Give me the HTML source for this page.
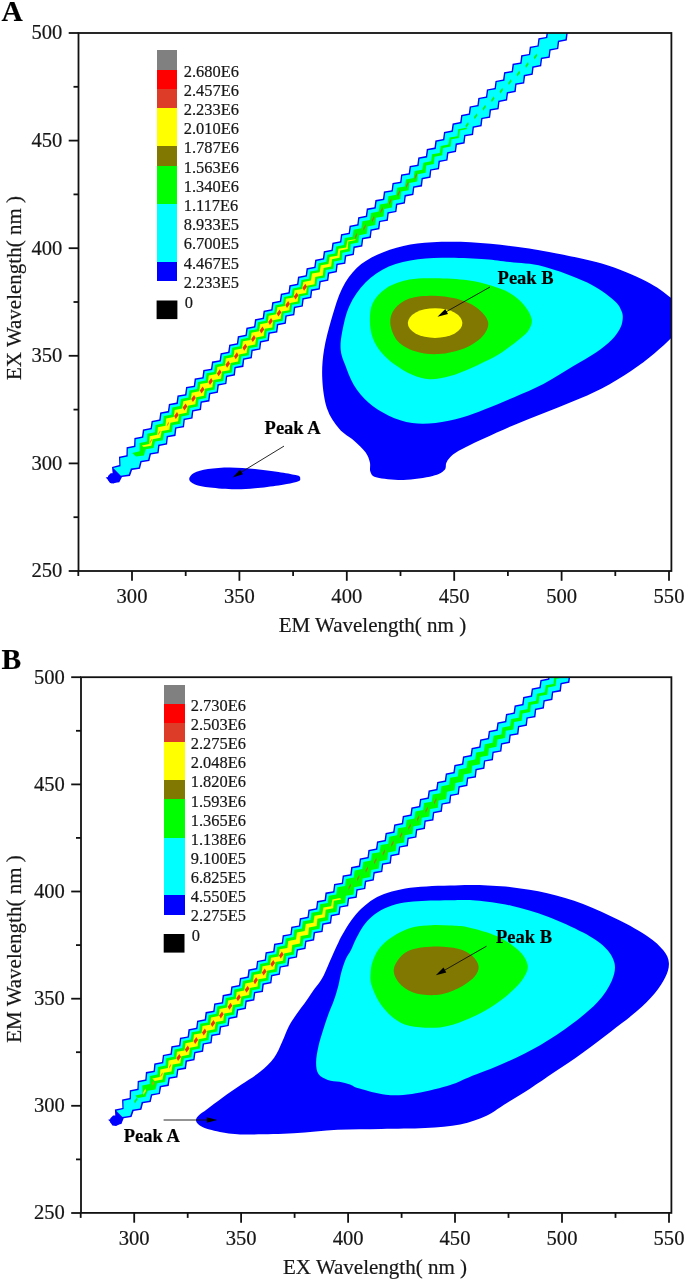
<!DOCTYPE html>
<html><head><meta charset="utf-8"><title>Figure</title>
<style>html,body{margin:0;padding:0;background:#fff}svg{display:block}</style></head>
<body>
<svg width="685" height="1283" viewBox="0 0 685 1283">
<style>
text{font-family:"Liberation Serif",serif;fill:#161616;stroke:#161616;stroke-width:0.2px}
.tk{font-size:20.6px}.al{font-size:21.0px}.lg{font-size:16.4px}.pl{font-size:29.5px;font-weight:bold;fill:#000}
.pk{font-size:18.5px;font-weight:bold;fill:#000}
</style>
<rect width="685" height="1283" fill="#fff"/>
<defs><clipPath id="ca"><rect x="78.5" y="33" width="592.9" height="538"/></clipPath><clipPath id="cb"><rect x="81" y="677.2" width="590.4" height="535.7"/></clipPath></defs>
<g clip-path="url(#ca)">
<path d="M108.0,475.9L110.7,473.2L116.2,473.0L118.5,477.4L117.5,481.6L113.7,483.6L110.0,483.0L107.9,479.9Z" fill="#0000ff"/>
<path d="M105.7,477.6L112.9,475.9L112.0,466.9L119.3,465.1L119.0,456.8L126.4,455.2L126.6,447.3L134.1,445.7L134.4,438.0L142.0,436.5L142.9,429.4L150.6,428.0L151.6,421.0L159.3,419.6L160.2,412.5L167.9,411.1L168.9,404.0L176.5,402.6L177.5,395.5L185.1,394.2L186.1,387.1L193.8,385.7L194.7,378.6L202.4,377.2L203.3,370.1L211.0,368.7L212.0,361.6L219.6,360.2L220.6,353.2L228.2,351.8L229.2,344.7L236.9,343.3L237.8,336.2L245.5,334.8L246.4,327.7L254.1,326.3L255.0,319.2L262.7,317.8L263.6,310.7L271.3,309.3L272.2,302.2L279.9,300.8L280.8,293.7L288.5,292.3L289.4,285.2L297.1,283.8L298.0,276.7L305.7,275.3L306.6,268.2L314.3,266.8L315.2,259.7L322.9,258.3L323.8,251.2L331.5,249.8L332.4,242.7L340.1,241.3L341.0,234.2L348.7,232.8L349.6,225.7L357.3,224.3L358.2,217.2L365.8,215.8L366.8,208.6L374.4,207.3L375.4,200.1L383.0,198.7L383.9,191.6L391.6,190.2L392.5,183.1L400.2,181.7L401.1,174.6L408.7,173.2L409.7,166.0L417.3,164.7L418.3,157.5L425.9,156.1L426.8,149.0L434.5,147.6L435.4,140.5L443.1,139.1L444.0,132.0L451.6,130.6L452.6,123.4L460.2,122.1L461.2,114.9L468.8,113.5L469.7,106.4L477.4,105.0L478.3,97.9L486.0,96.5L486.9,89.4L494.6,88.0L495.5,80.9L503.1,79.5L504.1,72.3L511.7,70.9L512.6,63.8L520.3,62.4L521.2,55.3L528.9,53.9L529.8,46.8L537.5,45.4L538.4,38.3L546.0,36.9L547.0,29.7L554.6,28.3L555.5,21.2L563.2,19.8L564.1,12.7L571.8,11.3L572.7,4.1L580.3,2.7L581.2,-4.4L593.3,7.6L592.4,14.8L584.7,16.2L583.8,23.4L576.2,24.8L575.3,31.9L567.7,33.3L566.8,40.5L559.1,41.9L558.3,49.1L550.6,50.5L549.7,57.7L542.1,59.1L541.2,66.3L533.6,67.7L532.7,74.8L525.1,76.2L524.2,83.4L516.5,84.8L515.7,92.0L508.0,93.4L507.1,100.6L499.5,102.0L498.6,109.2L491.0,110.6L490.1,117.7L482.5,119.1L481.6,126.3L473.9,127.7L473.1,134.9L465.4,136.3L464.6,143.5L456.9,144.9L456.0,152.1L448.4,153.5L447.5,160.6L439.9,162.0L439.0,169.2L431.3,170.6L430.5,177.8L422.8,179.2L422.0,186.4L414.3,187.8L413.4,195.0L405.8,196.4L404.9,203.5L397.3,204.9L396.4,212.1L388.7,213.5L387.9,220.7L380.2,222.1L379.4,229.3L371.7,230.7L370.8,237.9L363.2,239.3L362.3,246.5L354.7,247.9L353.8,255.1L346.2,256.5L345.3,263.7L337.7,265.1L336.8,272.2L329.2,273.7L328.3,280.8L320.7,282.3L319.8,289.4L312.2,290.9L311.3,298.0L303.7,299.4L302.8,306.6L295.2,308.0L294.3,315.2L286.7,316.6L285.8,323.8L278.2,325.2L277.3,332.4L269.7,333.8L268.8,341.0L261.2,342.4L260.3,349.6L252.7,351.1L251.8,358.3L244.2,359.7L243.4,366.9L235.7,368.3L234.9,375.5L227.2,376.9L226.4,384.1L218.8,385.5L217.9,392.7L210.3,394.2L209.4,401.4L201.8,402.8L201.0,410.0L193.3,411.4L192.5,418.6L184.8,420.0L184.0,427.2L176.4,428.6L175.5,435.9L167.9,437.3L167.1,444.5L159.5,445.9L158.6,453.2L150.9,454.5L149.4,461.0L141.6,462.3L140.0,468.7L132.1,469.9L130.0,475.9L122.0,476.9L119.3,482.2L111.2,483.2Z" fill="#0000ff"/>
<path d="M113.2,468.1L120.5,466.3L120.2,458.0L127.7,456.4L127.8,448.5L135.4,447.0L135.6,439.2L143.2,437.7L144.2,430.7L151.8,429.3L152.8,422.2L160.5,420.8L161.5,413.7L169.1,412.4L170.1,405.3L177.8,403.9L178.7,396.8L186.4,395.4L187.3,388.3L195.0,386.9L196.0,379.8L203.6,378.4L204.6,371.3L212.2,370.0L213.2,362.9L220.9,361.5L221.8,354.4L229.5,353.0L230.4,345.9L238.1,344.5L239.1,337.4L246.7,336.0L247.7,328.9L255.3,327.6L256.3,320.5L263.9,319.1L264.9,311.9L272.5,310.6L273.5,303.4L281.1,302.1L282.1,294.9L289.7,293.6L290.7,286.4L298.3,285.0L299.3,277.9L306.9,276.5L307.9,269.4L315.5,268.0L316.5,260.9L324.1,259.5L325.1,252.4L332.7,251.0L333.7,243.9L341.3,242.5L342.2,235.4L349.9,234.0L350.8,226.9L358.5,225.5L359.4,218.4L367.1,217.0L368.0,209.9L375.7,208.5L376.6,201.4L384.2,200.0L385.2,192.8L392.8,191.4L393.7,184.3L401.4,182.9L402.3,175.8L410.0,174.4L410.9,167.3L418.6,165.9L419.5,158.8L427.1,157.4L428.1,150.2L435.7,148.9L436.7,141.7L444.3,140.3L445.2,133.2L452.9,131.8L453.8,124.7L461.5,123.3L462.4,116.2L470.0,114.8L471.0,107.6L478.6,106.3L479.6,99.1L487.2,97.7L488.1,90.6L495.8,89.2L496.7,82.1L504.4,80.7L505.3,73.6L512.9,72.2L513.9,65.0L521.5,63.7L522.5,56.5L530.1,55.1L531.0,48.0L538.7,46.6L539.6,39.5L547.3,38.1L548.2,31.0L555.9,29.6L556.8,22.4L564.4,21.0L565.3,13.9L573.0,12.5L573.9,5.4L581.6,4.0L582.5,-3.2L592.0,6.4L591.1,13.6L583.5,15.0L582.6,22.1L575.0,23.5L574.1,30.7L566.4,32.1L565.5,39.3L557.9,40.7L557.0,47.9L549.4,49.3L548.5,56.4L540.9,57.8L540.0,65.0L532.3,66.4L531.5,73.6L523.8,75.0L523.0,82.2L515.3,83.6L514.4,90.8L506.8,92.2L505.9,99.3L498.3,100.7L497.4,107.9L489.7,109.3L488.9,116.5L481.2,117.9L480.4,125.1L472.7,126.5L471.8,133.7L464.2,135.1L463.3,142.2L455.7,143.6L454.8,150.8L447.1,152.2L446.3,159.4L438.6,160.8L437.8,168.0L430.1,169.4L429.2,176.6L421.6,178.0L420.7,185.1L413.1,186.5L412.2,193.7L404.6,195.1L403.7,202.3L396.0,203.7L395.2,210.9L387.5,212.3L386.6,219.5L379.0,220.9L378.1,228.0L370.5,229.4L369.6,236.6L362.0,238.0L361.1,245.2L353.5,246.6L352.6,253.8L344.9,255.2L344.1,262.4L336.4,263.8L335.6,271.0L327.9,272.4L327.1,279.6L319.4,281.0L318.6,288.2L310.9,289.6L310.1,296.8L302.4,298.2L301.6,305.4L293.9,306.8L293.1,314.0L285.4,315.4L284.6,322.6L276.9,324.0L276.1,331.2L268.4,332.6L267.6,339.8L259.9,341.2L259.1,348.4L251.4,349.8L250.6,357.0L243.0,358.4L242.1,365.6L234.5,367.1L233.6,374.3L226.0,375.7L225.2,382.9L217.5,384.3L216.7,391.5L209.0,392.9L208.2,400.1L200.6,401.5L199.7,408.8L192.1,410.2L191.2,417.4L183.6,418.8L182.8,426.0L175.1,427.4L174.3,434.6L166.7,436.1L165.9,443.3L158.2,444.7L157.4,451.9L149.7,453.2L148.1,459.8L140.4,461.1L138.7,467.5L130.9,468.6L128.8,474.6L120.8,475.7Z" fill="#00ffff"/>
<path d="M132.3,453.0L139.6,451.3L139.6,443.1L147.1,441.6L147.3,433.8L154.9,432.3L155.5,424.9L163.1,423.5L163.8,416.1L171.4,414.7L172.3,407.5L180.0,406.1L180.9,399.0L188.5,397.6L189.4,390.4L197.1,389.0L198.0,381.9L205.7,380.5L206.6,373.3L214.2,371.9L215.1,364.8L222.8,363.4L223.7,356.2L231.3,354.8L232.2,347.7L239.9,346.3L240.8,339.2L248.4,337.8L249.3,330.6L257.0,329.2L258.0,322.2L265.7,320.8L266.7,313.8L274.4,312.4L275.4,305.3L283.0,304.0L284.0,296.9L291.7,295.5L292.7,288.5L300.4,287.1L301.4,280.1L309.1,278.7L310.1,271.6L317.7,270.3L318.7,263.2L326.4,261.8L327.4,254.8L335.1,253.4L336.2,246.4L343.8,245.1L344.9,238.1L352.6,236.7L353.6,229.7L361.3,228.3L362.4,221.3L370.0,220.0L371.1,213.0L378.8,211.6L379.8,204.6L387.5,203.2L388.5,196.2L396.2,194.8L397.2,187.8L404.9,186.4L406.0,179.4L413.6,178.1L414.7,171.0L422.3,169.7L423.4,162.7L431.1,161.3L432.1,154.3L439.8,152.9L440.8,145.9L448.5,144.6L449.6,137.6L457.3,136.2L458.3,129.2L466.0,127.8L467.3,129.1L459.7,130.5L458.9,137.9L451.3,139.3L450.6,146.6L443.0,148.0L442.2,155.3L434.6,156.8L433.8,164.1L426.2,165.5L425.5,172.8L417.8,174.2L417.1,181.5L409.4,182.9L408.7,190.2L401.1,191.6L400.3,198.9L392.7,200.4L391.9,207.6L384.3,209.1L383.5,216.4L375.9,217.8L375.2,225.1L367.5,226.5L366.8,233.8L359.2,235.2L358.4,242.5L350.8,244.0L350.1,251.3L342.4,252.7L341.7,260.0L334.1,261.4L333.3,268.7L325.7,270.1L324.9,277.4L317.2,278.8L316.4,286.1L308.8,287.5L308.0,294.7L300.4,296.2L299.6,303.4L292.0,304.8L291.2,312.1L283.5,313.5L282.7,320.8L275.1,322.2L274.3,329.4L266.7,330.9L265.9,338.1L258.3,339.5L257.4,346.7L249.7,348.1L248.8,355.2L241.2,356.6L240.3,363.8L232.6,365.2L231.7,372.4L224.1,373.8L223.2,380.9L215.5,382.3L214.6,389.5L207.0,390.9L206.1,398.0L198.5,399.4L197.6,406.6L189.9,408.0L189.0,415.1L181.4,416.5L180.5,423.7L172.8,425.1L171.7,432.0L164.0,433.3L162.8,440.2L155.1,441.6L153.5,448.1L145.7,449.3L143.9,455.5L135.9,456.6Z" fill="#00ff00"/>
<path d="M141.8,445.4L149.3,443.9L149.7,436.2L157.3,434.7L157.9,427.2L165.5,425.8L166.2,418.5L173.8,417.1L174.7,409.9L182.3,408.5L183.2,401.2L190.8,399.8L191.7,392.7L199.3,391.3L200.2,384.1L207.9,382.7L208.8,375.5L216.4,374.1L217.3,367.0L225.0,365.6L225.8,358.4L233.5,357.0L234.4,349.9L242.0,348.5L242.9,341.3L250.6,339.9L251.5,332.7L259.1,331.3L260.1,324.2L267.7,322.8L268.7,315.7L276.3,314.3L277.3,307.2L284.9,305.9L285.9,298.8L293.6,297.4L294.6,290.3L302.2,288.9L303.2,281.9L310.9,280.5L312.0,273.6L319.7,272.2L320.8,265.3L328.5,263.9L329.6,257.0L337.3,255.7L338.5,248.8L346.2,247.4L347.4,240.6L355.1,239.2L355.9,240.0L348.3,241.5L347.7,248.9L340.1,250.4L339.5,257.8L331.9,259.2L331.2,266.6L323.6,268.1L322.9,275.4L315.3,276.9L314.6,284.2L307.0,285.7L306.2,292.9L298.5,294.3L297.7,301.5L290.1,303.0L289.3,310.2L281.6,311.6L280.8,318.8L273.1,320.2L272.3,327.4L264.6,328.8L263.8,336.0L256.1,337.4L255.2,344.5L247.6,345.9L246.7,353.1L239.0,354.5L238.1,361.6L230.5,363.0L229.5,370.2L221.9,371.6L221.0,378.7L213.3,380.1L212.4,387.3L204.8,388.7L203.9,395.8L196.2,397.2L195.3,404.3L187.6,405.7L186.7,412.8L179.0,414.2L178.1,421.3L170.4,422.7L169.3,429.7L161.6,431.0L160.4,437.8L152.7,439.2L151.3,445.8L143.5,447.1Z" fill="#ffff00"/>
<path d="M468.1,121.9L468.8,124.2L466.1,127.9L465.4,125.6ZM476.7,113.3L477.4,115.6L474.7,119.3L474.0,117.1ZM485.2,104.8L485.9,107.1L483.2,110.8L482.5,108.5ZM493.8,96.2L494.5,98.5L491.8,102.2L491.1,100.0ZM502.3,87.7L503.0,90.0L500.3,93.7L499.6,91.4ZM510.9,79.1L511.6,81.4L508.9,85.1L508.2,82.9ZM519.4,70.6L520.1,72.9L517.4,76.6L516.7,74.3ZM528.0,62.0L528.7,64.3L526.0,68.0L525.3,65.8ZM536.5,53.5L537.2,55.8L534.5,59.5L533.8,57.2Z" fill="#14f014"/>
<path d="M357.0,232.8L357.3,235.3L355.0,239.3L354.7,236.8ZM365.5,224.2L365.8,226.7L363.5,230.7L363.2,228.3ZM374.1,215.7L374.4,218.2L372.1,222.2L371.8,219.7ZM382.6,207.1L382.9,209.6L380.6,213.6L380.3,211.2ZM391.2,198.6L391.5,201.1L389.2,205.1L388.9,202.6ZM399.7,190.0L400.0,192.5L397.7,196.5L397.4,194.1ZM408.3,181.5L408.6,184.0L406.3,188.0L406.0,185.5ZM416.8,172.9L417.1,175.4L414.8,179.4L414.5,177.0Z" fill="#8c8c14"/>
<path d="" fill="#f0f014"/>
<path d="M151.8,438.7L151.9,440.6L149.8,443.7L149.7,441.8ZM160.3,430.2L160.4,432.1L158.3,435.2L158.2,433.3ZM168.9,421.6L169.0,423.5L166.9,426.6L166.8,424.7Z" fill="#f08c00"/>
<path d="M177.0,412.1L178.7,415.1L175.8,419.1L174.1,416.1ZM185.6,403.5L187.3,406.5L184.4,410.5L182.7,407.6ZM194.1,395.0L195.8,398.0L192.9,402.0L191.2,399.0ZM202.7,386.4L204.4,389.4L201.5,393.4L199.8,390.5ZM211.2,377.9L212.9,380.9L210.0,384.9L208.3,381.9ZM219.8,369.3L221.5,372.3L218.6,376.3L216.9,373.4ZM228.3,360.8L230.0,363.8L227.1,367.8L225.4,364.8ZM236.9,352.2L238.6,355.2L235.7,359.2L234.0,356.3ZM245.4,343.7L247.1,346.7L244.2,350.7L242.5,347.7ZM254.0,335.1L255.7,338.1L252.8,342.1L251.1,339.2ZM262.5,326.6L264.2,329.6L261.3,333.6L259.6,330.6ZM271.1,318.0L272.8,321.0L269.9,325.0L268.2,322.1ZM279.6,309.5L281.3,312.5L278.4,316.5L276.7,313.5ZM288.2,300.9L289.9,303.9L287.0,307.9L285.3,305.0ZM296.7,292.4L298.4,295.4L295.5,299.4L293.8,296.4ZM305.3,283.8L307.0,286.8L304.1,290.8L302.4,287.9Z" fill="#f03200"/>
<path d="M432.6,242.3C443.8,241.7 457.7,241.7 470.6,242.3C483.5,242.9 497.9,244.6 510.0,246.0C522.1,247.4 528.1,248.1 543.4,251.0C558.7,253.9 584.8,258.6 601.8,263.6C618.8,268.6 633.9,275.2 645.6,281.0C657.3,286.8 664.5,292.8 671.9,298.6C679.3,304.4 690.0,309.6 690.0,316.0C690.0,322.4 678.0,331.1 672.0,337.3C666.0,343.5 661.1,347.8 654.3,353.4C647.5,359.0 639.8,365.1 631.0,370.9C622.2,376.7 611.5,383.3 601.8,388.4C592.1,393.5 582.3,397.4 572.6,401.5C562.9,405.6 553.1,409.3 543.4,413.2C533.7,417.1 523.9,420.8 514.2,424.9C504.5,429.0 493.0,434.3 485.0,438.0C477.0,441.7 471.3,444.2 466.0,447.0C460.7,449.8 456.2,452.0 453.0,454.6C449.8,457.2 447.9,459.8 446.5,462.4C445.1,465.0 446.8,467.7 444.5,470.0C442.2,472.3 439.5,474.3 432.6,476.0C425.8,477.7 412.7,479.8 403.4,480.0C394.1,480.2 382.5,478.8 377.0,477.5C371.5,476.2 371.7,474.5 370.5,472.0C369.3,469.5 370.7,465.7 369.9,462.4C369.1,459.1 368.2,455.8 365.5,452.2C362.8,448.6 358.2,444.4 353.8,440.5C349.4,436.6 343.7,434.2 339.2,428.8C334.7,423.4 329.8,416.7 327.0,408.4C324.2,400.1 322.8,388.9 322.3,379.2C321.8,369.5 322.4,360.3 324.0,350.0C325.6,339.7 328.9,327.9 331.9,317.6C334.9,307.3 338.0,296.7 342.1,288.4C346.2,280.1 350.9,273.6 356.7,268.0C362.5,262.4 369.4,258.5 377.2,254.8C385.0,251.1 394.2,248.1 403.4,246.0C412.6,243.9 421.4,242.9 432.6,242.3Z" fill="#0000ff"/>
<path d="M450.1,257.7C461.3,257.7 475.2,258.5 485.2,259.2C495.2,259.9 500.3,260.9 510.0,262.1C519.7,263.3 530.5,263.1 543.4,266.5C556.3,269.9 575.5,277.0 587.2,282.6C598.9,288.2 607.8,295.3 613.5,300.0C619.2,304.7 620.0,307.7 621.5,311.0C623.0,314.3 622.9,316.9 622.6,320.0C622.3,323.1 621.4,326.2 619.5,329.5C617.6,332.8 615.4,336.2 611.5,340.0C607.6,343.8 602.5,348.1 596.0,352.5C589.5,356.9 581.4,361.2 572.6,366.5C563.8,371.8 553.1,378.9 543.4,384.0C533.7,389.1 523.9,393.0 514.2,397.2C504.5,401.4 493.7,405.9 485.0,409.3C476.3,412.7 470.2,415.3 462.0,417.6C453.8,419.9 443.8,422.1 435.5,423.0C427.2,423.9 420.0,424.2 412.2,423.0C404.4,421.8 396.1,419.1 388.8,415.7C381.5,412.3 374.2,407.7 368.4,402.6C362.6,397.5 357.7,391.3 353.8,385.0C349.9,378.7 347.2,370.4 345.0,364.6C342.8,358.8 341.2,355.4 340.7,350.0C340.2,344.6 340.7,339.6 342.1,332.2C343.6,324.8 345.5,314.2 349.4,305.9C353.3,297.6 358.9,289.2 365.5,282.6C372.1,276.0 380.1,270.4 388.8,266.5C397.6,262.6 407.8,260.7 418.0,259.2C428.2,257.7 438.9,257.7 450.1,257.7Z" fill="#00ffff"/>
<path d="M435.5,278.2C445.2,278.3 458.4,279.0 467.7,280.2C476.9,281.4 483.9,283.4 491.0,285.6C498.1,287.8 504.5,290.0 510.0,293.2C515.5,296.4 520.4,300.7 524.0,305.0C527.6,309.3 530.9,314.8 531.7,319.0C532.5,323.2 530.8,326.7 528.8,330.0C526.8,333.3 524.4,335.2 520.0,338.8C515.6,342.4 508.3,348.1 502.5,351.9C496.7,355.7 490.8,358.6 485.0,361.5C479.2,364.4 473.8,367.1 468.0,369.5C462.2,371.9 456.5,374.4 450.1,376.0C443.7,377.6 436.0,379.4 429.7,379.2C423.4,379.0 418.0,377.2 412.2,374.8C406.4,372.4 399.9,368.4 394.7,364.6C389.5,360.8 384.6,356.4 381.0,352.0C377.4,347.6 374.7,343.2 372.8,338.0C370.9,332.8 369.9,326.3 369.9,320.5C369.9,314.7 370.1,308.4 372.8,303.0C375.5,297.6 379.8,292.3 385.9,288.4C392.0,284.5 401.0,281.3 409.3,279.6C417.6,277.9 425.8,278.1 435.5,278.2Z" fill="#00ff00"/>
<path d="M432.6,295.7C440.4,295.7 448.7,296.7 456.0,298.6C463.3,300.6 471.0,303.5 476.4,307.4C481.8,311.3 487.1,317.1 488.1,322.0C489.1,326.9 486.2,332.2 482.3,336.6C478.4,341.0 472.0,345.3 464.7,348.2C457.4,351.1 446.8,353.6 438.5,354.1C430.2,354.6 421.9,353.4 415.1,351.2C408.3,349.0 401.7,345.5 397.6,340.9C393.5,336.3 390.8,328.8 390.3,323.4C389.8,318.0 391.5,312.9 394.7,308.8C397.9,304.7 403.0,300.8 409.3,298.6C415.6,296.4 424.8,295.7 432.6,295.7Z" fill="#807800"/>
<ellipse cx="435.1" cy="323.1" rx="27.3" ry="14.9" fill="#ffff00"/>
<path d="M189.2,479.3C189.0,477.4 190.9,474.7 194.0,473.0C197.1,471.3 202.0,469.9 208.0,469.0C214.0,468.1 222.2,467.4 230.0,467.4C237.8,467.4 246.9,468.2 255.0,469.0C263.1,469.8 271.8,471.0 278.5,472.0C285.2,473.0 292.0,474.3 295.5,475.0C299.0,475.7 298.8,475.8 299.6,476.4C300.4,477.0 300.2,477.8 300.2,478.5C300.2,479.2 300.6,480.1 299.4,480.8C298.2,481.5 296.5,482.0 293.0,482.8C289.5,483.6 284.8,484.6 278.5,485.5C272.2,486.4 262.3,487.7 255.0,488.3C247.7,488.9 242.2,489.4 234.7,489.3C227.2,489.2 216.6,488.3 210.0,487.5C203.4,486.7 198.5,485.9 195.0,484.5C191.5,483.1 189.4,481.2 189.2,479.3Z" fill="#0000ff"/>
</g>
<line x1="490.0" y1="287.0" x2="444.9" y2="312.5" stroke="#111" stroke-width="0.90"/><path d="M437.5,316.7L445.3,309.1L448.0,314.0Z" fill="#000"/>
<line x1="284.0" y1="446.1" x2="239.9" y2="473.0" stroke="#111" stroke-width="0.90"/><path d="M232.6,477.4L240.1,469.5L243.0,474.3Z" fill="#000"/>
<text x="497.6" y="283.7" class="pk">Peak B</text>
<text x="264.6" y="433.5" class="pk">Peak A</text>
<rect x="156.6" y="50.30" width="20.8" height="19.80" fill="#808080" shape-rendering="crispEdges"/>
<rect x="156.6" y="69.50" width="20.8" height="19.80" fill="#ff0000" shape-rendering="crispEdges"/>
<rect x="156.6" y="88.70" width="20.8" height="19.80" fill="#dc3c28" shape-rendering="crispEdges"/>
<rect x="156.6" y="107.90" width="20.8" height="19.80" fill="#ffff00" shape-rendering="crispEdges"/>
<rect x="156.6" y="127.10" width="20.8" height="19.80" fill="#ffff00" shape-rendering="crispEdges"/>
<rect x="156.6" y="146.30" width="20.8" height="19.80" fill="#807800" shape-rendering="crispEdges"/>
<rect x="156.6" y="165.50" width="20.8" height="19.80" fill="#00ff00" shape-rendering="crispEdges"/>
<rect x="156.6" y="184.70" width="20.8" height="19.80" fill="#00ff00" shape-rendering="crispEdges"/>
<rect x="156.6" y="203.90" width="20.8" height="19.80" fill="#00ffff" shape-rendering="crispEdges"/>
<rect x="156.6" y="223.10" width="20.8" height="19.80" fill="#00ffff" shape-rendering="crispEdges"/>
<rect x="156.6" y="242.30" width="20.8" height="19.80" fill="#00ffff" shape-rendering="crispEdges"/>
<rect x="156.6" y="261.50" width="20.8" height="19.80" fill="#0000ff" shape-rendering="crispEdges"/>
<text x="183.8" y="76.6" class="lg">2.680E6</text>
<text x="183.8" y="95.8" class="lg">2.457E6</text>
<text x="183.8" y="115.0" class="lg">2.233E6</text>
<text x="183.8" y="134.2" class="lg">2.010E6</text>
<text x="183.8" y="153.4" class="lg">1.787E6</text>
<text x="183.8" y="172.6" class="lg">1.563E6</text>
<text x="183.8" y="191.8" class="lg">1.340E6</text>
<text x="183.8" y="211.0" class="lg">1.117E6</text>
<text x="183.8" y="230.2" class="lg">8.933E5</text>
<text x="183.8" y="249.4" class="lg">6.700E5</text>
<text x="183.8" y="268.6" class="lg">4.467E5</text>
<text x="183.8" y="287.8" class="lg">2.233E5</text>
<rect x="156.6" y="300.5" width="20.8" height="18.6" fill="#000"/>
<text x="184.8" y="307.8" class="lg">0</text>
<rect x="78.5" y="33.0" width="592.9" height="538.0" fill="none" stroke="#111" stroke-width="1.8"/>
<line x1="78.3" y1="571.0" x2="78.3" y2="576.0" stroke="#111" stroke-width="1.8"/>
<line x1="132.0" y1="571.0" x2="132.0" y2="580.8" stroke="#111" stroke-width="1.8"/>
<text x="132.0" y="603.0" text-anchor="middle" class="tk">300</text>
<line x1="185.7" y1="571.0" x2="185.7" y2="576.0" stroke="#111" stroke-width="1.8"/>
<line x1="239.4" y1="571.0" x2="239.4" y2="580.8" stroke="#111" stroke-width="1.8"/>
<text x="239.4" y="603.0" text-anchor="middle" class="tk">350</text>
<line x1="293.1" y1="571.0" x2="293.1" y2="576.0" stroke="#111" stroke-width="1.8"/>
<line x1="346.8" y1="571.0" x2="346.8" y2="580.8" stroke="#111" stroke-width="1.8"/>
<text x="346.8" y="603.0" text-anchor="middle" class="tk">400</text>
<line x1="400.5" y1="571.0" x2="400.5" y2="576.0" stroke="#111" stroke-width="1.8"/>
<line x1="454.2" y1="571.0" x2="454.2" y2="580.8" stroke="#111" stroke-width="1.8"/>
<text x="454.2" y="603.0" text-anchor="middle" class="tk">450</text>
<line x1="507.9" y1="571.0" x2="507.9" y2="576.0" stroke="#111" stroke-width="1.8"/>
<line x1="561.6" y1="571.0" x2="561.6" y2="580.8" stroke="#111" stroke-width="1.8"/>
<text x="561.6" y="603.0" text-anchor="middle" class="tk">500</text>
<line x1="615.3" y1="571.0" x2="615.3" y2="576.0" stroke="#111" stroke-width="1.8"/>
<line x1="669.0" y1="571.0" x2="669.0" y2="580.8" stroke="#111" stroke-width="1.8"/>
<text x="669.0" y="603.0" text-anchor="middle" class="tk">550</text>
<line x1="68.7" y1="571.0" x2="78.5" y2="571.0" stroke="#111" stroke-width="1.8"/>
<text x="62.3" y="577.4" text-anchor="end" class="tk">250</text>
<line x1="73.5" y1="517.2" x2="78.5" y2="517.2" stroke="#111" stroke-width="1.8"/>
<line x1="68.7" y1="463.4" x2="78.5" y2="463.4" stroke="#111" stroke-width="1.8"/>
<text x="62.3" y="469.8" text-anchor="end" class="tk">300</text>
<line x1="73.5" y1="409.6" x2="78.5" y2="409.6" stroke="#111" stroke-width="1.8"/>
<line x1="68.7" y1="355.8" x2="78.5" y2="355.8" stroke="#111" stroke-width="1.8"/>
<text x="62.3" y="362.2" text-anchor="end" class="tk">350</text>
<line x1="73.5" y1="302.0" x2="78.5" y2="302.0" stroke="#111" stroke-width="1.8"/>
<line x1="68.7" y1="248.2" x2="78.5" y2="248.2" stroke="#111" stroke-width="1.8"/>
<text x="62.3" y="254.6" text-anchor="end" class="tk">400</text>
<line x1="73.5" y1="194.4" x2="78.5" y2="194.4" stroke="#111" stroke-width="1.8"/>
<line x1="68.7" y1="140.6" x2="78.5" y2="140.6" stroke="#111" stroke-width="1.8"/>
<text x="62.3" y="147.0" text-anchor="end" class="tk">450</text>
<line x1="73.5" y1="86.8" x2="78.5" y2="86.8" stroke="#111" stroke-width="1.8"/>
<line x1="68.7" y1="33.0" x2="78.5" y2="33.0" stroke="#111" stroke-width="1.8"/>
<text x="62.3" y="39.4" text-anchor="end" class="tk">500</text>
<text x="372.4" y="632.2" text-anchor="middle" class="al">EM Wavelength( nm )</text>
<text transform="translate(21.3,288.0) rotate(-90)" text-anchor="middle" class="al">EX Wavelength( nm )</text>
<text x="1.5" y="20.8" class="pl">A</text>
<g clip-path="url(#cb)">
<path d="M110.4,1118.3L113.1,1115.6L118.6,1115.4L120.9,1119.8L119.9,1124.0L116.1,1126.0L112.4,1125.4L110.3,1122.3Z" fill="#0000ff"/>
<path d="M108.1,1119.7L115.4,1118.0L114.9,1109.5L122.4,1107.9L122.1,1099.6L129.6,1098.1L129.8,1090.2L137.4,1088.7L137.7,1081.0L145.3,1079.5L145.9,1072.1L153.6,1070.7L154.3,1063.4L162.0,1062.0L162.9,1054.9L170.5,1053.5L171.4,1046.3L179.1,1044.9L180.0,1037.8L187.6,1036.4L188.5,1029.2L196.2,1027.8L197.1,1020.7L204.7,1019.3L205.6,1012.1L213.3,1010.7L214.2,1003.6L221.8,1002.2L222.7,995.0L230.4,993.6L231.3,986.5L239.0,985.1L239.9,977.9L247.5,976.5L248.4,969.4L256.1,968.0L257.0,960.9L264.7,959.5L265.6,952.3L273.2,950.9L274.1,943.8L281.8,942.4L282.7,935.3L290.4,933.9L291.3,926.7L298.9,925.4L299.8,918.2L307.5,916.8L308.4,909.7L316.1,908.3L317.0,901.1L324.6,899.8L325.5,892.6L333.2,891.2L334.1,884.1L341.8,882.7L342.7,875.5L350.3,874.2L351.2,867.0L358.9,865.6L359.8,858.5L367.5,857.1L368.4,849.9L376.0,848.6L377.0,841.4L384.6,840.1L385.6,832.9L393.2,831.6L394.2,824.4L401.8,823.1L402.8,815.9L410.4,814.6L411.4,807.5L419.0,806.1L420.0,799.0L427.6,797.6L428.6,790.5L436.2,789.1L437.2,782.0L444.8,780.6L445.8,773.5L453.4,772.1L454.4,765.0L462.0,763.6L463.0,756.5L470.6,755.1L471.6,748.0L479.2,746.6L480.2,739.5L487.8,738.1L488.8,731.0L496.4,729.6L497.4,722.5L505.0,721.1L506.0,714.0L513.6,712.6L514.6,705.5L522.2,704.1L523.2,697.0L530.8,695.6L531.8,688.5L539.4,687.1L540.4,680.0L548.0,678.6L549.0,671.5L556.6,670.1L557.5,662.9L565.2,661.5L566.1,654.4L573.7,653.0L574.6,645.8L587.4,658.5L586.5,665.7L578.8,667.1L577.9,674.2L570.3,675.6L569.4,682.8L561.7,684.2L560.9,691.4L553.2,692.8L552.4,700.0L544.7,701.4L543.9,708.6L536.2,710.0L535.4,717.2L527.7,718.6L526.9,725.8L519.2,727.2L518.4,734.4L510.7,735.8L509.9,743.0L502.2,744.4L501.4,751.6L493.7,753.0L492.9,760.2L485.2,761.6L484.4,768.8L476.7,770.2L475.9,777.4L468.2,778.8L467.4,786.0L459.7,787.4L458.9,794.6L451.2,796.0L450.4,803.2L442.7,804.6L441.9,811.8L434.2,813.2L433.4,820.4L425.7,821.8L424.9,829.0L417.2,830.4L416.4,837.6L408.7,839.0L407.9,846.2L400.2,847.6L399.4,854.8L391.7,856.2L390.9,863.4L383.2,864.8L382.3,872.0L374.7,873.4L373.8,880.5L366.2,881.9L365.3,889.1L357.6,890.5L356.7,897.7L349.1,899.1L348.2,906.2L340.6,907.6L339.7,914.8L332.0,916.2L331.1,923.4L323.5,924.8L322.6,931.9L315.0,933.3L314.1,940.5L306.4,941.9L305.5,949.1L297.9,950.5L297.0,957.6L289.4,959.0L288.5,966.2L280.8,967.6L279.9,974.8L272.3,976.2L271.4,983.3L263.8,984.7L262.9,991.9L255.2,993.3L254.3,1000.5L246.7,1001.9L245.8,1009.0L238.2,1010.4L237.3,1017.6L229.6,1019.0L228.7,1026.1L221.1,1027.5L220.2,1034.7L212.5,1036.1L211.6,1043.2L204.0,1044.6L203.1,1051.8L195.4,1053.2L194.5,1060.3L186.9,1061.7L186.0,1068.9L178.3,1070.3L177.4,1077.4L169.8,1078.8L168.7,1085.9L161.1,1087.2L159.9,1094.1L152.2,1095.5L150.7,1102.1L143.0,1103.3L141.4,1109.8L133.6,1111.0L131.5,1117.1L123.7,1118.2L121.4,1124.0L113.4,1125.1Z" fill="#0000ff"/>
<path d="M116.2,1110.8L123.6,1109.1L123.4,1100.8L130.9,1099.3L131.1,1091.5L138.6,1089.9L138.9,1082.2L146.5,1080.7L147.2,1073.4L154.8,1071.9L155.6,1064.7L163.2,1063.3L164.1,1056.1L171.8,1054.7L172.7,1047.6L180.3,1046.2L181.2,1039.0L188.9,1037.6L189.8,1030.5L197.4,1029.1L198.3,1021.9L206.0,1020.5L206.9,1013.4L214.5,1012.0L215.4,1004.8L223.1,1003.4L224.0,996.3L231.6,994.9L232.5,987.7L240.2,986.3L241.1,979.2L248.8,977.8L249.7,970.7L257.3,969.3L258.2,962.1L265.9,960.7L266.8,953.6L274.5,952.2L275.4,945.1L283.0,943.7L283.9,936.5L291.6,935.1L292.5,928.0L300.2,926.6L301.1,919.5L308.7,918.1L309.6,910.9L317.3,909.5L318.2,902.4L325.9,901.0L326.8,893.9L334.4,892.5L335.3,885.3L343.0,883.9L343.9,876.8L351.6,875.4L352.5,868.3L360.1,866.9L361.0,859.7L368.7,858.3L369.6,851.2L377.3,849.8L378.2,842.7L385.9,841.3L386.8,834.2L394.5,832.8L395.4,825.7L403.1,824.3L404.0,817.2L411.7,815.8L412.6,808.7L420.3,807.3L421.2,800.2L428.9,798.8L429.8,791.7L437.5,790.3L438.4,783.2L446.1,781.8L447.0,774.7L454.7,773.3L455.6,766.2L463.3,764.8L464.2,757.7L471.9,756.3L472.8,749.2L480.5,747.8L481.4,740.7L489.1,739.3L490.0,732.2L497.7,730.8L498.6,723.7L506.3,722.3L507.2,715.2L514.9,713.8L515.8,706.7L523.5,705.3L524.4,698.2L532.1,696.8L533.0,689.7L540.7,688.3L541.6,681.2L549.3,679.8L550.2,672.7L557.9,671.3L558.8,664.1L566.4,662.7L567.3,655.6L575.0,654.2L575.9,647.0L586.1,657.3L585.2,664.5L577.6,665.9L576.7,673.0L569.0,674.4L568.1,681.6L560.5,683.0L559.6,690.1L552.0,691.6L551.1,698.7L543.5,700.2L542.6,707.3L535.0,708.8L534.1,715.9L526.5,717.4L525.6,724.5L518.0,726.0L517.1,733.2L509.5,734.6L508.6,741.8L501.0,743.2L500.1,750.4L492.5,751.8L491.6,759.0L484.0,760.4L483.1,767.6L475.5,769.0L474.6,776.2L467.0,777.6L466.1,784.8L458.5,786.2L457.6,793.4L450.0,794.8L449.1,802.0L441.5,803.4L440.6,810.6L433.0,812.0L432.1,819.2L424.5,820.6L423.6,827.8L416.0,829.2L415.1,836.4L407.5,837.8L406.6,845.0L399.0,846.4L398.1,853.6L390.5,855.0L389.6,862.2L382.0,863.6L381.1,870.7L373.5,872.1L372.6,879.3L364.9,880.7L364.0,887.9L356.4,889.3L355.5,896.4L347.9,897.8L347.0,905.0L339.3,906.4L338.4,913.6L330.8,915.0L329.9,922.1L322.3,923.5L321.4,930.7L313.7,932.1L312.8,939.3L305.2,940.7L304.3,947.8L296.7,949.2L295.8,956.4L288.1,957.8L287.2,965.0L279.6,966.4L278.7,973.5L271.1,974.9L270.2,982.1L262.5,983.5L261.6,990.7L254.0,992.1L253.1,999.2L245.5,1000.6L244.6,1007.8L236.9,1009.2L236.0,1016.3L228.4,1017.7L227.5,1024.9L219.8,1026.3L218.9,1033.4L211.3,1034.8L210.4,1042.0L202.7,1043.4L201.8,1050.5L194.2,1051.9L193.3,1059.1L185.6,1060.5L184.7,1067.6L177.1,1069.0L176.2,1076.2L168.5,1077.6L167.5,1084.6L159.8,1086.0L158.7,1092.9L151.0,1094.3L149.5,1100.8L141.7,1102.1L140.1,1108.5L132.3,1109.8L130.3,1115.8L122.4,1117.0Z" fill="#00ffff"/>
<path d="M135.3,1095.6L142.7,1094.0L142.3,1085.6L149.8,1084.0L149.9,1076.1L157.4,1074.5L158.0,1067.0L165.6,1065.6L166.2,1058.2L173.8,1056.7L174.6,1049.5L182.3,1048.1L183.1,1040.9L190.8,1039.5L191.7,1032.3L199.3,1030.9L200.2,1023.8L207.8,1022.4L208.7,1015.2L216.4,1013.8L217.3,1006.6L224.9,1005.2L225.8,998.1L233.4,996.7L234.3,989.5L242.0,988.1L242.9,981.0L250.6,979.6L251.5,972.5L259.2,971.1L260.1,963.9L267.7,962.6L268.6,955.4L276.3,954.0L277.2,946.9L284.9,945.5L285.8,938.4L293.4,937.0L294.4,929.8L302.0,928.4L302.9,921.3L310.6,919.9L311.5,912.8L319.2,911.4L320.1,904.3L327.7,902.9L328.7,895.7L336.3,894.4L337.3,887.3L345.0,885.9L346.0,878.9L353.7,877.5L354.7,870.4L362.3,869.0L363.3,862.0L371.0,860.6L372.0,853.6L379.6,852.2L380.7,845.1L388.3,843.8L389.3,836.7L397.0,835.3L398.0,828.3L405.7,826.9L406.7,819.9L414.4,818.5L415.4,811.5L423.1,810.1L424.1,803.0L431.7,801.7L432.7,794.6L440.4,793.2L441.4,786.2L449.1,784.8L450.1,777.8L457.8,776.4L458.8,769.4L466.5,768.0L467.5,760.9L475.1,759.6L476.2,752.6L483.9,751.2L484.9,744.2L492.6,742.8L493.6,735.8L501.3,734.4L502.4,727.4L510.1,726.1L511.1,719.1L518.8,717.7L519.8,710.6L527.4,709.2L528.4,702.2L536.1,700.8L537.1,693.7L544.7,692.3L545.7,685.3L553.4,683.9L554.4,676.8L562.0,675.4L563.0,668.3L570.6,666.9L571.5,659.8L579.2,658.4L580.1,651.3L581.9,653.0L581.0,660.2L573.4,661.6L572.5,668.8L564.8,670.2L564.0,677.4L556.3,678.8L555.5,686.1L547.9,687.5L547.1,694.7L539.4,696.1L538.6,703.4L531.0,704.8L530.2,712.0L522.5,713.4L521.7,720.7L514.1,722.1L513.3,729.4L505.7,730.8L505.0,738.1L497.4,739.5L496.6,746.8L489.0,748.3L488.2,755.6L480.6,757.0L479.9,764.3L472.2,765.7L471.4,773.0L463.8,774.4L463.0,781.6L455.4,783.1L454.6,790.3L447.0,791.8L446.2,799.0L438.6,800.4L437.8,807.7L430.1,809.1L429.3,816.4L421.7,817.8L420.9,825.1L413.3,826.5L412.5,833.7L404.9,835.2L404.1,842.4L396.5,843.8L395.7,851.1L388.0,852.5L387.3,859.8L379.6,861.2L378.8,868.4L371.2,869.9L370.4,877.1L362.7,878.5L361.9,885.8L354.3,887.2L353.5,894.4L345.9,895.8L345.1,903.1L337.4,904.5L336.6,911.7L328.9,913.1L328.0,920.3L320.4,921.7L319.5,928.8L311.9,930.2L311.0,937.4L303.3,938.8L302.5,946.0L294.8,947.4L293.9,954.6L286.3,956.0L285.4,963.1L277.8,964.5L276.9,971.7L269.2,973.1L268.3,980.3L260.7,981.7L259.8,988.8L252.2,990.3L251.3,997.4L243.7,998.8L242.8,1006.0L235.1,1007.4L234.2,1014.5L226.5,1015.9L225.6,1023.0L218.0,1024.4L217.1,1031.6L209.4,1033.0L208.5,1040.1L200.8,1041.5L199.9,1048.6L192.3,1050.0L191.3,1057.2L183.7,1058.6L182.7,1065.7L175.0,1067.0L173.8,1073.9L166.1,1075.2L164.9,1082.1L157.1,1083.3L155.4,1089.6L147.6,1090.8L145.4,1096.8L137.5,1097.9Z" fill="#00ff00"/>
<path d="M152.3,1078.5L159.8,1077.0L160.3,1069.4L167.9,1067.9L168.6,1060.5L176.2,1059.1L177.0,1051.8L184.6,1050.4L185.4,1043.2L193.1,1041.8L194.0,1034.6L201.6,1033.2L202.5,1026.1L210.2,1024.7L211.0,1017.5L218.7,1016.1L219.6,1009.0L227.2,1007.6L228.1,1000.4L235.8,999.0L236.7,991.9L244.3,990.5L245.3,983.4L252.9,982.0L253.9,974.8L261.5,973.4L262.5,966.3L270.1,964.9L271.0,957.8L278.7,956.4L279.6,949.3L287.3,947.9L288.3,940.9L296.0,939.5L297.0,932.5L304.7,931.1L305.8,924.1L313.4,922.8L314.5,915.8L322.2,914.4L323.4,907.6L331.1,906.2L332.4,899.4L340.1,898.1L341.3,899.4L333.7,900.8L333.2,908.3L325.6,909.8L325.0,917.3L317.4,918.7L316.7,926.0L309.0,927.4L308.3,934.7L300.7,936.1L299.9,943.4L292.3,944.9L291.5,952.1L283.9,953.6L283.0,960.7L275.4,962.1L274.5,969.3L266.8,970.7L266.0,977.9L258.3,979.3L257.5,986.5L249.8,987.9L249.0,995.1L241.3,996.5L240.4,1003.7L232.8,1005.1L231.9,1012.2L224.2,1013.6L223.3,1020.7L215.7,1022.1L214.7,1029.3L207.1,1030.7L206.2,1037.8L198.5,1039.2L197.6,1046.3L190.0,1047.7L189.0,1054.8L181.3,1056.2L180.3,1063.2L172.6,1064.6L171.5,1071.5L163.8,1072.8L162.5,1079.6L154.7,1080.9Z" fill="#ffff00"/>
<path d="M136.9,1097.4L137.6,1099.6L134.9,1103.4L134.2,1101.1Z" fill="#14f014"/>
<path d="M350.7,883.4L351.0,885.8L348.7,889.9L348.4,887.4ZM359.2,874.8L359.5,877.3L357.2,881.3L356.9,878.8ZM367.8,866.3L368.1,868.7L365.8,872.8L365.5,870.3ZM376.3,857.7L376.6,860.2L374.3,864.2L374.0,861.7ZM384.9,849.2L385.2,851.6L382.9,855.7L382.6,853.2ZM393.4,840.6L393.7,843.1L391.4,847.1L391.1,844.6ZM402.0,832.1L402.3,834.5L400.0,838.6L399.7,836.1ZM410.5,823.5L410.8,826.0L408.5,830.0L408.2,827.5ZM419.1,815.0L419.4,817.4L417.1,821.5L416.8,819.0ZM427.6,806.4L427.9,808.9L425.6,812.9L425.3,810.4ZM436.2,797.9L436.5,800.3L434.2,804.4L433.9,801.9Z" fill="#8c8c14"/>
<path d="M145.5,1088.6L145.9,1091.0L143.5,1095.1L143.1,1092.6Z" fill="#f0f014"/>
<path d="M154.0,1080.8L154.1,1082.7L152.0,1085.8L151.9,1083.9ZM162.6,1072.2L162.7,1074.1L160.6,1077.2L160.5,1075.3ZM171.1,1063.7L171.2,1065.6L169.1,1068.7L169.0,1066.8Z" fill="#f08c00"/>
<path d="M179.3,1054.1L181.0,1057.1L178.1,1061.1L176.4,1058.1ZM187.8,1045.6L189.5,1048.5L186.6,1052.6L184.9,1049.6ZM196.4,1037.0L198.1,1040.0L195.2,1044.0L193.5,1041.0ZM204.9,1028.5L206.6,1031.4L203.7,1035.5L202.0,1032.5ZM213.5,1019.9L215.2,1022.9L212.3,1026.9L210.6,1023.9ZM222.0,1011.4L223.7,1014.3L220.8,1018.4L219.1,1015.4ZM230.6,1002.8L232.3,1005.8L229.4,1009.8L227.7,1006.8ZM239.1,994.3L240.8,997.2L237.9,1001.3L236.2,998.3ZM247.7,985.7L249.4,988.7L246.5,992.7L244.8,989.7ZM256.2,977.2L257.9,980.1L255.0,984.2L253.3,981.2ZM264.8,968.6L266.5,971.6L263.6,975.6L261.9,972.6ZM273.3,960.1L275.0,963.0L272.1,967.1L270.4,964.1ZM281.9,951.5L283.6,954.5L280.7,958.5L279.0,955.5Z" fill="#f03200"/>
<path d="M450.0,885.5C458.2,885.3 465.6,884.7 475.8,885.0C486.1,885.3 499.6,885.8 511.5,887.2C523.4,888.6 535.4,890.4 547.3,893.2C559.2,896.0 571.2,899.5 583.1,904.0C595.0,908.5 608.1,914.7 618.8,920.1C629.5,925.5 639.9,931.1 647.4,936.2C654.9,941.3 659.9,946.0 663.5,950.5C667.1,955.0 668.6,958.5 668.9,963.0C669.2,967.5 667.7,972.2 665.3,977.3C662.9,982.4 659.4,987.7 654.6,993.4C649.8,999.1 643.9,1005.0 636.7,1011.3C629.6,1017.5 620.6,1024.1 611.7,1030.9C602.8,1037.8 592.6,1045.5 583.1,1052.4C573.6,1059.3 563.3,1066.1 554.5,1072.1C545.7,1078.1 538.7,1083.0 530.3,1088.5C521.9,1094.0 511.3,1100.2 504.0,1104.8C496.7,1109.3 493.8,1112.5 486.5,1115.8C479.2,1119.1 470.4,1122.5 460.2,1124.5C450.0,1126.5 438.3,1127.3 425.2,1128.0C412.1,1128.7 396.0,1128.6 381.4,1128.9C366.8,1129.2 352.2,1129.1 337.6,1129.8C323.0,1130.5 308.4,1132.5 293.8,1133.3C279.2,1134.1 260.4,1134.4 250.0,1134.5C239.6,1134.6 238.2,1134.6 231.4,1133.8C224.7,1133.0 214.8,1130.8 209.5,1129.4C204.2,1128.0 202.1,1127.0 199.8,1125.5C197.6,1124.0 196.1,1122.0 196.0,1120.2C195.9,1118.5 197.4,1116.8 199.2,1115.0C201.0,1113.2 203.1,1112.1 207.0,1109.2C210.9,1106.3 217.0,1101.6 222.7,1097.5C228.4,1093.4 235.2,1088.9 241.4,1084.6C247.6,1080.3 254.7,1076.3 260.1,1071.8C265.6,1067.3 270.4,1062.8 274.1,1057.7C277.8,1052.6 279.9,1046.5 282.3,1041.4C284.7,1036.3 286.2,1031.5 288.5,1027.0C290.8,1022.5 293.4,1018.7 296.1,1014.7C298.8,1010.7 302.0,1006.9 304.8,1003.0C307.6,999.1 310.4,994.7 312.8,991.3C315.2,987.9 317.6,985.3 319.4,982.6C321.2,979.9 322.2,978.5 323.8,975.3C325.4,972.1 327.3,967.2 328.9,963.6C330.5,960.0 331.7,956.9 333.3,953.4C334.9,949.9 336.9,945.6 338.4,942.5C339.9,939.4 340.2,938.4 342.3,934.8C344.4,931.2 347.8,925.2 351.0,920.8C354.2,916.4 357.7,912.1 361.5,908.5C365.3,904.9 369.4,901.5 373.8,898.9C378.2,896.3 382.6,894.5 387.8,892.8C393.1,891.0 398.9,889.5 405.3,888.4C411.7,887.3 418.9,886.9 426.4,886.4C433.8,885.9 441.8,885.7 450.0,885.5Z" fill="#0000ff"/>
<path d="M455.0,900.2C461.8,900.2 466.4,899.7 475.8,900.6C485.2,901.5 499.6,903.1 511.5,905.8C523.4,908.4 535.4,912.0 547.3,916.5C559.2,921.0 573.6,927.5 583.1,932.6C592.6,937.7 599.3,941.8 604.5,946.9C609.7,952.0 613.3,957.3 614.5,963.0C615.7,968.7 614.6,974.4 611.7,980.9C608.9,987.4 604.0,995.1 597.4,1002.3C590.8,1009.4 581.8,1016.6 572.3,1023.8C562.8,1031.0 551.4,1038.7 540.1,1045.2C528.8,1051.8 516.3,1057.7 504.4,1063.1C492.5,1068.5 478.2,1073.6 468.6,1077.4C459.1,1081.2 456.5,1083.2 447.1,1086.0C437.7,1088.8 422.2,1092.4 412.0,1093.9C401.8,1095.4 394.6,1095.7 385.8,1094.8C377.1,1093.9 365.5,1090.3 359.5,1088.6C353.5,1086.9 353.3,1085.5 350.0,1084.4C346.7,1083.3 343.2,1082.5 339.5,1081.8C335.8,1081.0 331.3,1081.2 327.8,1079.9C324.3,1078.6 320.4,1077.0 318.5,1074.1C316.6,1071.2 316.1,1067.1 316.1,1062.4C316.1,1057.7 317.3,1051.5 318.5,1046.1C319.7,1040.7 321.5,1035.2 323.1,1030.0C324.7,1024.8 326.4,1019.7 328.2,1014.7C330.0,1009.7 332.3,1005.0 334.0,1000.1C335.7,995.2 337.2,990.1 338.4,985.5C339.6,980.9 340.1,976.7 341.3,972.3C342.5,967.9 344.1,962.9 345.7,959.2C347.3,955.5 349.2,953.5 351.0,950.0C352.8,946.5 354.2,942.3 356.3,938.3C358.4,934.3 360.7,929.8 363.3,926.1C365.9,922.5 368.5,919.3 372.0,916.4C375.5,913.5 379.6,910.7 384.3,908.5C389.0,906.3 394.6,904.5 400.1,903.3C405.7,902.1 411.8,901.7 417.6,901.2C423.4,900.7 428.9,900.7 435.1,900.5C441.3,900.3 448.2,900.2 455.0,900.2Z" fill="#00ffff"/>
<path d="M450.0,925.6C456.2,926.0 460.7,925.6 468.6,927.4C476.5,929.2 488.8,932.4 497.2,936.2C505.6,940.1 513.6,945.7 518.7,950.5C523.8,955.3 526.7,960.3 527.6,964.8C528.5,969.3 526.7,972.8 524.0,977.3C521.3,981.8 517.1,986.5 511.5,991.6C505.9,996.7 497.9,1002.9 490.1,1007.7C482.4,1012.5 473.4,1016.9 465.0,1020.2C456.6,1023.5 449.1,1026.4 440.0,1027.4C430.9,1028.4 418.0,1027.7 410.1,1026.0C402.2,1024.3 397.7,1021.1 392.6,1017.2C387.5,1013.3 383.0,1008.0 379.5,1002.6C376.0,997.2 373.0,990.0 371.5,985.1C370.0,980.2 370.4,976.9 370.6,973.0C370.8,969.1 371.2,965.8 372.5,962.0C373.8,958.2 375.6,953.6 378.2,950.0C380.8,946.4 384.1,943.1 387.8,940.1C391.5,937.1 395.7,934.4 400.1,932.2C404.5,930.0 408.9,928.1 414.1,926.9C419.4,925.7 425.6,925.4 431.6,925.2C437.6,925.0 443.8,925.2 450.0,925.6Z" fill="#00ff00"/>
<path d="M433.5,946.6C441.9,946.1 451.4,947.2 457.9,948.7C464.3,950.2 468.8,952.8 472.2,955.8C475.6,958.8 478.3,963.0 478.6,966.6C478.9,970.2 477.4,973.6 474.0,977.3C470.6,980.9 464.2,985.5 457.9,988.5C451.6,991.5 443.5,994.4 436.0,995.0C428.5,995.6 419.4,994.5 413.1,992.4C406.9,990.3 401.7,986.3 398.5,982.2C395.3,978.1 392.7,972.7 394.1,967.6C395.6,962.5 400.6,955.0 407.2,951.5C413.8,948.0 425.1,947.1 433.5,946.6Z" fill="#807800"/>
</g>
<line x1="486.5" y1="946.2" x2="443.2" y2="971.0" stroke="#111" stroke-width="0.90"/><path d="M435.8,975.2L443.5,967.6L446.3,972.4Z" fill="#000"/>
<line x1="163.6" y1="1120.0" x2="208.8" y2="1120.0" stroke="#111" stroke-width="0.90"/><path d="M217.3,1120.0L206.8,1122.8L206.8,1117.2Z" fill="#000"/>
<text x="496" y="943.2" class="pk">Peak B</text>
<text x="123.8" y="1141.6" class="pk">Peak A</text>
<rect x="163.7" y="684.80" width="20.8" height="19.70" fill="#808080" shape-rendering="crispEdges"/>
<rect x="163.7" y="703.90" width="20.8" height="19.70" fill="#ff0000" shape-rendering="crispEdges"/>
<rect x="163.7" y="723.00" width="20.8" height="19.70" fill="#dc3c28" shape-rendering="crispEdges"/>
<rect x="163.7" y="742.10" width="20.8" height="19.70" fill="#ffff00" shape-rendering="crispEdges"/>
<rect x="163.7" y="761.20" width="20.8" height="19.70" fill="#ffff00" shape-rendering="crispEdges"/>
<rect x="163.7" y="780.30" width="20.8" height="19.70" fill="#807800" shape-rendering="crispEdges"/>
<rect x="163.7" y="799.40" width="20.8" height="19.70" fill="#00ff00" shape-rendering="crispEdges"/>
<rect x="163.7" y="818.50" width="20.8" height="19.70" fill="#00ff00" shape-rendering="crispEdges"/>
<rect x="163.7" y="837.60" width="20.8" height="19.70" fill="#00ffff" shape-rendering="crispEdges"/>
<rect x="163.7" y="856.70" width="20.8" height="19.70" fill="#00ffff" shape-rendering="crispEdges"/>
<rect x="163.7" y="875.80" width="20.8" height="19.70" fill="#00ffff" shape-rendering="crispEdges"/>
<rect x="163.7" y="894.90" width="20.8" height="19.70" fill="#0000ff" shape-rendering="crispEdges"/>
<text x="190.8" y="711.0" class="lg">2.730E6</text>
<text x="190.8" y="730.1" class="lg">2.503E6</text>
<text x="190.8" y="749.2" class="lg">2.275E6</text>
<text x="190.8" y="768.3" class="lg">2.048E6</text>
<text x="190.8" y="787.4" class="lg">1.820E6</text>
<text x="190.8" y="806.5" class="lg">1.593E6</text>
<text x="190.8" y="825.6" class="lg">1.365E6</text>
<text x="190.8" y="844.7" class="lg">1.138E6</text>
<text x="190.8" y="863.8" class="lg">9.100E5</text>
<text x="190.8" y="882.9" class="lg">6.825E5</text>
<text x="190.8" y="902.0" class="lg">4.550E5</text>
<text x="190.8" y="921.1" class="lg">2.275E5</text>
<rect x="163.7" y="934.0" width="20.8" height="18.6" fill="#000"/>
<text x="191.8" y="941.3" class="lg">0</text>
<rect x="81.0" y="677.2" width="590.4" height="535.7" fill="none" stroke="#111" stroke-width="1.8"/>
<line x1="80.7" y1="1212.9" x2="80.7" y2="1217.9" stroke="#111" stroke-width="1.8"/>
<line x1="134.2" y1="1212.9" x2="134.2" y2="1222.7" stroke="#111" stroke-width="1.8"/>
<text x="134.2" y="1244.9" text-anchor="middle" class="tk">300</text>
<line x1="187.7" y1="1212.9" x2="187.7" y2="1217.9" stroke="#111" stroke-width="1.8"/>
<line x1="241.1" y1="1212.9" x2="241.1" y2="1222.7" stroke="#111" stroke-width="1.8"/>
<text x="241.1" y="1244.9" text-anchor="middle" class="tk">350</text>
<line x1="294.6" y1="1212.9" x2="294.6" y2="1217.9" stroke="#111" stroke-width="1.8"/>
<line x1="348.1" y1="1212.9" x2="348.1" y2="1222.7" stroke="#111" stroke-width="1.8"/>
<text x="348.1" y="1244.9" text-anchor="middle" class="tk">400</text>
<line x1="401.6" y1="1212.9" x2="401.6" y2="1217.9" stroke="#111" stroke-width="1.8"/>
<line x1="455.0" y1="1212.9" x2="455.0" y2="1222.7" stroke="#111" stroke-width="1.8"/>
<text x="455.0" y="1244.9" text-anchor="middle" class="tk">450</text>
<line x1="508.5" y1="1212.9" x2="508.5" y2="1217.9" stroke="#111" stroke-width="1.8"/>
<line x1="562.0" y1="1212.9" x2="562.0" y2="1222.7" stroke="#111" stroke-width="1.8"/>
<text x="562.0" y="1244.9" text-anchor="middle" class="tk">500</text>
<line x1="615.5" y1="1212.9" x2="615.5" y2="1217.9" stroke="#111" stroke-width="1.8"/>
<line x1="669.0" y1="1212.9" x2="669.0" y2="1222.7" stroke="#111" stroke-width="1.8"/>
<text x="669.0" y="1244.9" text-anchor="middle" class="tk">550</text>
<line x1="71.2" y1="1213.0" x2="81.0" y2="1213.0" stroke="#111" stroke-width="1.8"/>
<text x="64.8" y="1219.4" text-anchor="end" class="tk">250</text>
<line x1="76.0" y1="1159.4" x2="81.0" y2="1159.4" stroke="#111" stroke-width="1.8"/>
<line x1="71.2" y1="1105.8" x2="81.0" y2="1105.8" stroke="#111" stroke-width="1.8"/>
<text x="64.8" y="1112.2" text-anchor="end" class="tk">300</text>
<line x1="76.0" y1="1052.2" x2="81.0" y2="1052.2" stroke="#111" stroke-width="1.8"/>
<line x1="71.2" y1="998.7" x2="81.0" y2="998.7" stroke="#111" stroke-width="1.8"/>
<text x="64.8" y="1005.1" text-anchor="end" class="tk">350</text>
<line x1="76.0" y1="945.1" x2="81.0" y2="945.1" stroke="#111" stroke-width="1.8"/>
<line x1="71.2" y1="891.5" x2="81.0" y2="891.5" stroke="#111" stroke-width="1.8"/>
<text x="64.8" y="897.9" text-anchor="end" class="tk">400</text>
<line x1="76.0" y1="837.9" x2="81.0" y2="837.9" stroke="#111" stroke-width="1.8"/>
<line x1="71.2" y1="784.4" x2="81.0" y2="784.4" stroke="#111" stroke-width="1.8"/>
<text x="64.8" y="790.8" text-anchor="end" class="tk">450</text>
<line x1="76.0" y1="730.8" x2="81.0" y2="730.8" stroke="#111" stroke-width="1.8"/>
<line x1="71.2" y1="677.2" x2="81.0" y2="677.2" stroke="#111" stroke-width="1.8"/>
<text x="64.8" y="683.6" text-anchor="end" class="tk">500</text>
<text x="375.0" y="1274.1" text-anchor="middle" class="al">EX Wavelength( nm )</text>
<text transform="translate(21.3,949.0) rotate(-90)" text-anchor="middle" class="al">EM Wavelength( nm )</text>
<text x="1.5" y="668.6" class="pl">B</text>
</svg>
</body></html>
